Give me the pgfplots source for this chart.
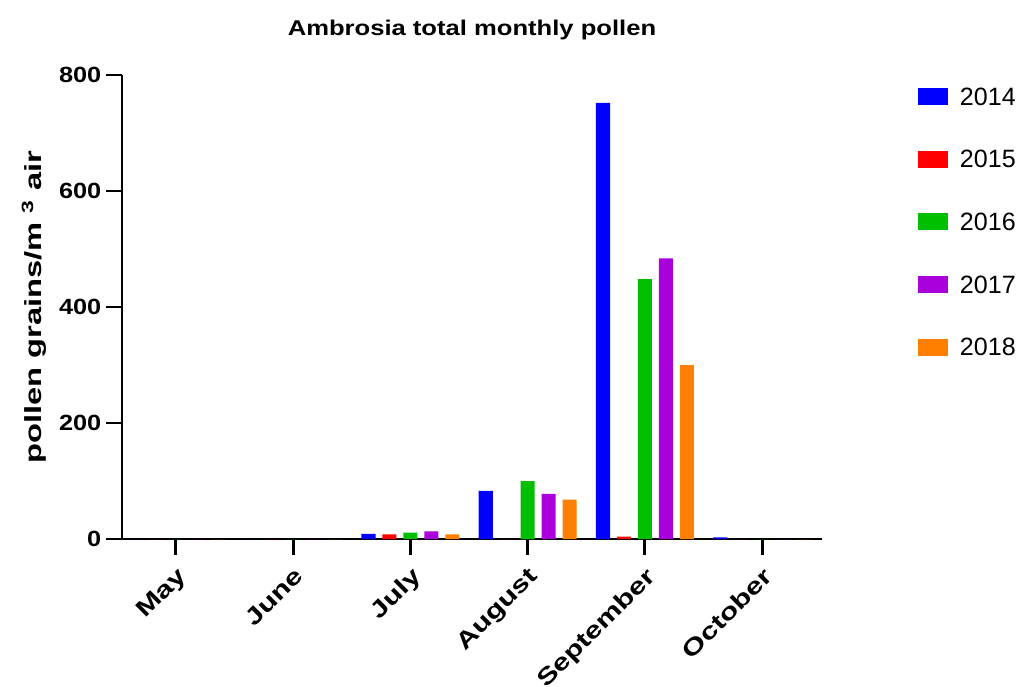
\documentclass[border=0pt]{standalone}
\usepackage{fontspec}
\usepackage{graphicx}
\usepackage{pgfplots}
\pgfplotsset{compat=1.18}
\setmainfont{Liberation Sans}
\definecolor{cB}{RGB}{0,0,255}
\definecolor{cR}{RGB}{255,0,0}
\definecolor{cG}{RGB}{0,190,0}
\definecolor{cP}{RGB}{170,0,220}
\definecolor{cO}{RGB}{255,128,0}
\newcommand{\xs}[1]{\scalebox{1.3}[1]{#1}}
\begin{document}
\begin{tikzpicture}
\begin{axis}[
  name=ax,
  scale only axis,
  width=525pt, height=348pt,
  xmin=-0.46, xmax=5.51,
  ymin=0, ymax=800,
  axis x line=bottom, axis y line=left,
  axis line style={-, line width=2.2pt, black},
  tick style={line width=2.2pt, black},
  major tick length=12pt,
  tick align=outside,
  xtick={0,1,2,3,4,5},
  xticklabels={\xs{May},\xs{June},\xs{July},\xs{August},\xs{September},\xs{October}},
  ytick={0,200,400,600,800},
  /pgf/number format/assume math mode=true,
  yticklabel={\scalebox{1.15}[1]{\pgfmathprintnumber{\tick}}},
  yticklabel style={font=\bfseries\fontsize{16.5}{18}\selectfont},
  xticklabel style={font=\bfseries\fontsize{17.5}{19}\selectfont, rotate=45, anchor=north east, inner sep=2pt},
  xticklabel shift=5pt,
  title={\scalebox{1.2}[1]{Ambrosia total monthly pollen}},
  title style={font=\bfseries\fontsize{16}{18}\selectfont, anchor=base, at={(0.5,1)}, yshift=24pt},
  ylabel={\scalebox{1.4}[1]{pollen grains/m \textsuperscript{3} air}},
  ylabel style={font=\bfseries\fontsize{17.5}{19}\selectfont, at={(axis description cs:0,0.5)}, anchor=center, yshift=66pt},
  ybar,
  bar width=0.12,
  legend style={draw=none, at={(1.131,1)}, anchor=north west, yshift=-7.5pt,
    font=\fontsize{18.8}{20}\selectfont, row sep=34pt, column sep=9pt,
    nodes={inner sep=0pt, text height=13pt, text depth=0pt}},
  legend cell align=left,
  legend image code/.code={\fill (0pt,-6.4pt) rectangle (22.5pt,6.4pt);},
]
\addplot[fill=cB, draw=none, bar shift=-0.358] coordinates {(0,0) (1,0) (2,9) (3,83) (4,752) (5,3)};
\addplot[fill=cR, draw=none, bar shift=-0.179] coordinates {(0,0) (1,0) (2,8) (3,0) (4,4) (5,0)};
\addplot[fill=cG, draw=none, bar shift=0] coordinates {(0,0) (1,0) (2,11) (3,100) (4,448) (5,0)};
\addplot[fill=cP, draw=none, bar shift=0.179] coordinates {(0,0) (1,0) (2,13) (3,78) (4,484) (5,0)};
\addplot[fill=cO, draw=none, bar shift=0.358] coordinates {(0,0) (1,0) (2,8) (3,68) (4,300) (5,0)};
\legend{2014,2015,2016,2017,2018}
\end{axis}
\pgfresetboundingbox
\path ([shift={(-91.5pt,-110.25pt)}]ax.south west) rectangle ([shift={(676.5pt,404.25pt)}]ax.south west);
\end{tikzpicture}
\end{document}
